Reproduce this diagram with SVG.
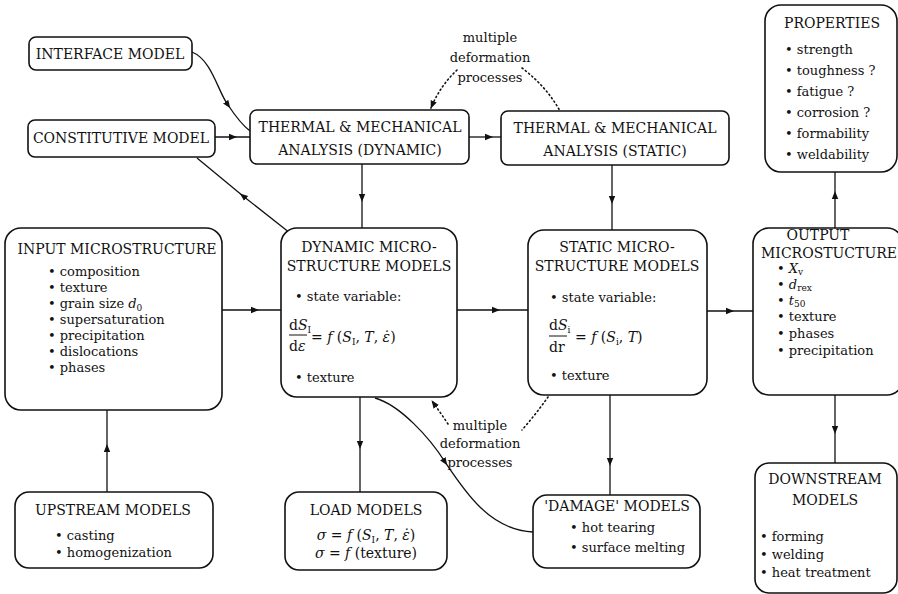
<svg xmlns="http://www.w3.org/2000/svg" width="898" height="594" viewBox="0 0 898 594">
<defs>
<marker id="a" viewBox="0 0 10 10" refX="5" refY="5" markerWidth="8" markerHeight="8" markerUnits="userSpaceOnUse" orient="auto"><path d="M0,1 L10,5 L0,9 z" fill="#111"/></marker>
<marker id="e" viewBox="0 0 10 10" refX="9" refY="5" markerWidth="8" markerHeight="8" markerUnits="userSpaceOnUse" orient="auto"><path d="M0,1 L10,5 L0,9 z" fill="#111"/></marker>
</defs>
<style>
text{font-family:"DejaVu Serif","Liberation Serif",serif;fill:#111}
.t{font-size:14px;text-anchor:middle}
.b{font-size:13px}
.m{font-size:14px}
.i{font-style:italic}
rect{fill:#fff;stroke:#111;stroke-width:1.6}
.c path{fill:none;stroke:#111;stroke-width:1.3}
.c path.d{stroke-dasharray:1.2 3;stroke-linecap:round;stroke-width:1.6}
.n{font-size:13px;text-anchor:middle}
</style>
<rect x="0" y="0" width="898" height="594" style="fill:#fff;stroke:none"/>
<g class="c" id="connectors">
<path d="M192,52 C212,60 218,92 228,105 C236,117 242,125 250,131" marker-mid="url(#a)"/>
<path d="M215,137 L233,137 L250,137" marker-mid="url(#a)"/>
<path d="M469,137 L489,137 L501,137" marker-mid="url(#a)"/>
<path d="M290,233 L243,196 L197,158" marker-mid="url(#a)"/>
<path d="M362,164 L362,198 L362,228" marker-mid="url(#a)"/>
<path d="M612,165 L612,200 L612,230" marker-mid="url(#a)"/>
<path d="M222,310 L255,310 L281,310" marker-mid="url(#a)"/>
<path d="M457,310 L496,310 L528,310" marker-mid="url(#a)"/>
<path d="M707,311 L730,311 L753,311" marker-mid="url(#a)"/>
<path d="M835,228 L835,195 L835,172" marker-mid="url(#a)"/>
<path d="M835,395 L835,430 L835,463" marker-mid="url(#a)"/>
<path d="M107,492 L107,448 L107,410" marker-mid="url(#a)"/>
<path d="M360,397 L360,445 L360,492" marker-mid="url(#a)"/>
<path d="M610,395 L610,462 L610,495" marker-mid="url(#a)"/>
<path d="M375,398 C400,405 430,438 445,462 C465,492 490,530 533,532" marker-mid="url(#a)"/>
<path class="d" d="M457,70 Q440,86 431,108" marker-end="url(#e)"/>
<path class="d" d="M522,68 Q546,86 560,111"/>
<path class="d" d="M448,424 Q440,412 432,401" marker-end="url(#e)"/>
<path class="d" d="M548,397 Q536,414 522,430"/>
</g>
<g id="label-top">
<text class="n" x="490" y="42">multiple</text>
<text class="n" x="490" y="62">deformation</text>
<text class="n" x="490" y="82">processes</text>
</g>
<g id="label-bottom">
<text class="n" x="480" y="430">multiple</text>
<text class="n" x="480" y="448">deformation</text>
<text class="n" x="480" y="467">processes</text>
</g>
<g id="interface">
<rect x="29" y="37" width="163" height="33" rx="7"/>
<text class="t" x="110" y="59">INTERFACE MODEL</text>
</g>
<g id="constitutive">
<rect x="28" y="120" width="187" height="37" rx="7"/>
<text class="t" x="121" y="143">CONSTITUTIVE MODEL</text>
</g>
<g id="thermal-dynamic">
<rect x="250" y="110" width="219" height="54" rx="7"/>
<text class="t" x="360" y="132">THERMAL &amp; MECHANICAL</text>
<text class="t" x="360" y="155">ANALYSIS (DYNAMIC)</text>
</g>
<g id="thermal-static">
<rect x="501" y="111" width="228" height="54" rx="7"/>
<text class="t" x="615" y="133">THERMAL &amp; MECHANICAL</text>
<text class="t" x="615" y="156">ANALYSIS (STATIC)</text>
</g>
<g id="properties">
<rect x="765" y="5" width="132" height="167" rx="16"/>
<text class="t" x="832" y="28">PROPERTIES</text>
<text class="b" x="785" y="54">• strength</text>
<text class="b" x="785" y="75">• toughness ?</text>
<text class="b" x="785" y="96">• fatigue ?</text>
<text class="b" x="785" y="117">• corrosion ?</text>
<text class="b" x="785" y="138">• formability</text>
<text class="b" x="785" y="159">• weldability</text>
</g>
<g id="input">
<rect x="5" y="228" width="217" height="182" rx="16"/>
<text class="t" x="117" y="254">INPUT MICROSTRUCTURE</text>
<text class="b" x="48" y="276">• composition</text>
<text class="b" x="48" y="292">• texture</text>
<text class="b" x="48" y="308">• grain size <tspan class="i">d</tspan><tspan font-size="9" dy="3">0</tspan></text>
<text class="b" x="48" y="324">• supersaturation</text>
<text class="b" x="48" y="340">• precipitation</text>
<text class="b" x="48" y="356">• dislocations</text>
<text class="b" x="48" y="372">• phases</text>
</g>
<g id="dynamic-micro">
<rect x="281" y="228" width="176" height="169" rx="16"/>
<text class="t" x="369" y="252">DYNAMIC MICRO-</text>
<text class="t" x="369" y="271">STRUCTURE MODELS</text>
<text class="b" x="295" y="301">• state variable:</text>
<text class="m" x="289" y="330">d<tspan class="i">S</tspan><tspan font-size="9" dy="3">I</tspan></text>
<path d="M289,335 L307,335" stroke="#111" stroke-width="1"/>
<text class="m" x="289" y="351">d<tspan class="i">ε</tspan></text>
<text class="m" x="311" y="342">= <tspan class="i">f</tspan> (<tspan class="i">S</tspan><tspan font-size="9" dy="3">I</tspan><tspan dy="-3">, </tspan><tspan class="i">T</tspan>, <tspan class="i">ε̇</tspan>)</text>
<text class="b" x="295" y="382">• texture</text>
</g>
<g id="static-micro">
<rect x="528" y="230" width="179" height="165" rx="16"/>
<text class="t" x="617" y="252">STATIC MICRO-</text>
<text class="t" x="617" y="271">STRUCTURE MODELS</text>
<text class="b" x="550" y="302">• state variable:</text>
<text class="m" x="549" y="330">d<tspan class="i">S</tspan><tspan font-size="9" dy="3">i</tspan></text>
<path d="M549,336 L567,336" stroke="#111" stroke-width="1"/>
<text class="m" x="549" y="352">dr</text>
<text class="m" x="575" y="342">= <tspan class="i">f</tspan> (<tspan class="i">S</tspan><tspan font-size="9" dy="3">i</tspan><tspan dy="-3">, </tspan><tspan class="i">T</tspan>)</text>
<text class="b" x="550" y="380">• texture</text>
</g>
<g id="output">
<rect x="753" y="228" width="150" height="167" rx="16"/>
<text class="t" x="818" y="240">OUTPUT</text>
<text class="t" x="829" y="258">MICROSTUCTURE</text>
<text class="b" x="777" y="273">• <tspan class="i">X</tspan><tspan font-size="9" dy="2">v</tspan></text>
<text class="b" x="777" y="289">• <tspan class="i">d</tspan><tspan font-size="9" dy="2">rex</tspan></text>
<text class="b" x="777" y="305">• <tspan class="i">t</tspan><tspan font-size="9" dy="2">50</tspan></text>
<text class="b" x="777" y="321">• texture</text>
<text class="b" x="777" y="338">• phases</text>
<text class="b" x="777" y="355">• precipitation</text>
</g>
<g id="upstream">
<rect x="15" y="492" width="198" height="76" rx="14"/>
<text class="t" x="113" y="515">UPSTREAM MODELS</text>
<text class="b" x="55" y="540">• casting</text>
<text class="b" x="55" y="557">• homogenization</text>
</g>
<g id="load">
<rect x="285" y="492" width="162" height="78" rx="14"/>
<text class="t" x="366" y="515">LOAD MODELS</text>
<text class="m" x="366" y="540" text-anchor="middle"><tspan class="i">σ</tspan> = <tspan class="i">f</tspan> (<tspan class="i">S</tspan><tspan font-size="9" dy="3">I</tspan><tspan dy="-3">, </tspan><tspan class="i">T</tspan>, <tspan class="i">ε̇</tspan>)</text>
<text class="m" x="366" y="558" text-anchor="middle"><tspan class="i">σ</tspan> = <tspan class="i">f</tspan> (texture)</text>
</g>
<g id="damage">
<rect x="533" y="495" width="167" height="73" rx="14"/>
<text class="t" x="617" y="511">'DAMAGE' MODELS</text>
<text class="b" x="570" y="532">• hot tearing</text>
<text class="b" x="570" y="552">• surface melting</text>
</g>
<g id="downstream">
<rect x="755" y="463" width="142" height="130" rx="14"/>
<text class="t" x="825" y="484">DOWNSTREAM</text>
<text class="t" x="825" y="505">MODELS</text>
<text class="b" x="760" y="541">• forming</text>
<text class="b" x="760" y="559">• welding</text>
<text class="b" x="760" y="577">• heat treatment</text>
</g>
</svg>
